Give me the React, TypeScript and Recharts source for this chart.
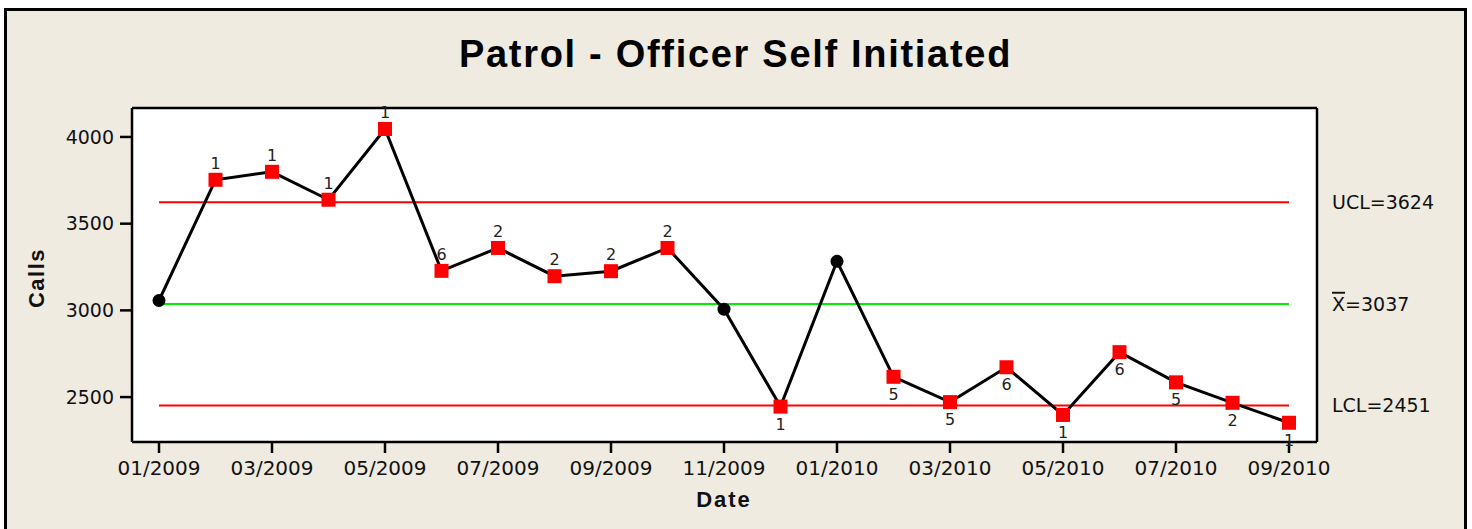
import { LineChart, Line, XAxis, YAxis, CartesianGrid, ReferenceLine, LabelList } from 'recharts';

const months = [
  '01/2009', '02/2009', '03/2009', '04/2009', '05/2009', '06/2009', '07/2009',
  '08/2009', '09/2009', '10/2009', '11/2009', '12/2009', '01/2010', '02/2010',
  '03/2010', '04/2010', '05/2010', '06/2010', '07/2010', '08/2010', '09/2010',
];
const calls = [
  3057, 3753, 3799, 3638, 4046, 3228, 3360, 3197, 3226, 3360, 3007,
  2445, 3283, 2617, 2471, 2672, 2397, 2759, 2585, 2467, 2352,
];
// failed test number for each point ('' = in control)
const tests = ['', '1', '1', '1', '1', '6', '2', '2', '2', '2', '', '1', '', '5', '5', '6', '1', '6', '5', '2', '1'];
const UCL = 3624;
const MEAN = 3037;
const LCL = 2451;
const yTicks = [2500, 3000, 3500, 4000];

const data = months.map((date, i) => ({ date, calls: calls[i], test: tests[i] }));

const TICK_FONT = 'DejaVu Sans';
const BOLD_FONT = '"Liberation Sans", Arial, sans-serif';

const renderDot = (props: any) => {
  const { cx, cy, index } = props;
  if (tests[index]) {
    return <rect key={`d${index}`} x={cx - 7} y={cy - 7} width={14} height={14} fill="#ff0000" />;
  }
  return <circle key={`d${index}`} cx={cx} cy={cy} r={6.5} fill="#000" />;
};

const renderTest = (props: any) => {
  const { x, y, index, value } = props;
  if (!value) return null;
  const above = calls[index] > MEAN;
  return (
    <text
      key={`t${index}`}
      x={x}
      y={above ? y - 11 : y + 23}
      textAnchor="middle"
      fontSize={16}
      fontFamily={TICK_FONT}
      fill="#222"
    >
      {value}
    </text>
  );
};

const ControlLabel = (props: any) => {
  const { viewBox, name, value } = props;
  const x = viewBox.x + viewBox.width + 43;
  const y = viewBox.y + viewBox.height / 2;
  return (
    <text x={x} y={y} dy="0.36em" fontSize={19} fontFamily={TICK_FONT} fill="#111">
      {name === 'X' ? (
        <tspan textDecoration="overline">X</tspan>
      ) : (
        <tspan>{name}</tspan>
      )}
      <tspan>={value}</tspan>
    </text>
  );
};

export default function App() {
  return (
    <div style={{ position: 'absolute', left: 0, top: 0, width: 1472, height: 529, overflow: 'hidden', background: '#fff' }}>
      <div
        style={{
          position: 'absolute',
          left: 4,
          top: 8,
          width: 1463,
          height: 560,
          boxSizing: 'border-box',
          border: '3px solid #000',
          background: '#efebe1',
        }}
      />
      <div style={{ position: 'absolute', left: 0, top: 0 }}>
        <LineChart width={1472} height={529} data={data} margin={{ top: 106, right: 153, bottom: 47, left: 72 }}>
          <CartesianGrid horizontal={false} vertical={false} fill="#fff" />
          <XAxis
            dataKey="date"
            interval={1}
            padding={{ left: 27, right: 28 }}
            height={40}
            tickSize={11}
            tickMargin={8}
            tick={{ fontSize: 20, fontFamily: TICK_FONT, fill: '#111' }}
            axisLine={{ stroke: '#000', strokeWidth: 2.5 }}
            tickLine={{ stroke: '#000', strokeWidth: 2.5 }}
          />
          <XAxis
            xAxisId="top"
            orientation="top"
            dataKey="date"
            height={2}
            tick={false}
            tickLine={false}
            axisLine={{ stroke: '#000', strokeWidth: 2.5 }}
          />
          <YAxis
            domain={[2241, 4167]}
            ticks={yTicks}
            width={60}
            tickSize={12}
            tickMargin={6}
            tick={{ fontSize: 19, fontFamily: TICK_FONT, fill: '#111' }}
            axisLine={{ stroke: '#000', strokeWidth: 2.5 }}
            tickLine={{ stroke: '#000', strokeWidth: 2.5 }}
          />
          <YAxis
            yAxisId="right"
            orientation="right"
            domain={[2241, 4167]}
            width={2}
            tick={false}
            tickLine={false}
            axisLine={{ stroke: '#000', strokeWidth: 2.5 }}
          />
          <ReferenceLine
            segment={[{ x: months[0], y: UCL }, { x: months[months.length - 1], y: UCL }]}
            stroke="#ff0000"
            strokeWidth={2}
            label={<ControlLabel name="UCL" value={UCL} />}
          />
          <ReferenceLine
            segment={[{ x: months[0], y: MEAN }, { x: months[months.length - 1], y: MEAN }]}
            stroke="#00ee00"
            strokeWidth={2}
            label={<ControlLabel name="X" value={MEAN} />}
          />
          <ReferenceLine
            segment={[{ x: months[0], y: LCL }, { x: months[months.length - 1], y: LCL }]}
            stroke="#ff0000"
            strokeWidth={2}
            label={<ControlLabel name="LCL" value={LCL} />}
          />
          <Line
            dataKey="calls"
            stroke="#000"
            strokeWidth={3}
            dot={renderDot}
            activeDot={false}
            isAnimationActive={false}
          >
            <LabelList dataKey="test" content={renderTest} />
          </Line>
        </LineChart>
      </div>
      <div
        style={{
          position: 'absolute',
          left: 0,
          top: 35,
          width: 1471,
          textAlign: 'center',
          fontFamily: BOLD_FONT,
          fontWeight: 'bold',
          fontSize: 38,
          lineHeight: '38px',
          letterSpacing: 1.7,
          color: '#000',
        }}
      >
        Patrol - Officer Self Initiated
      </div>
      <div
        style={{
          position: 'absolute',
          left: 624,
          top: 489,
          width: 200,
          textAlign: 'center',
          fontFamily: BOLD_FONT,
          fontWeight: 'bold',
          fontSize: 22,
          lineHeight: '22px',
          letterSpacing: 2,
          color: '#111',
        }}
      >
        Date
      </div>
      <div
        style={{
          position: 'absolute',
          left: -13,
          top: 267,
          width: 100,
          textAlign: 'center',
          fontFamily: BOLD_FONT,
          fontWeight: 'bold',
          fontSize: 22,
          lineHeight: '22px',
          letterSpacing: 1.5,
          color: '#111',
          transform: 'rotate(-90deg)',
        }}
      >
        Calls
      </div>
    </div>
  );
}
